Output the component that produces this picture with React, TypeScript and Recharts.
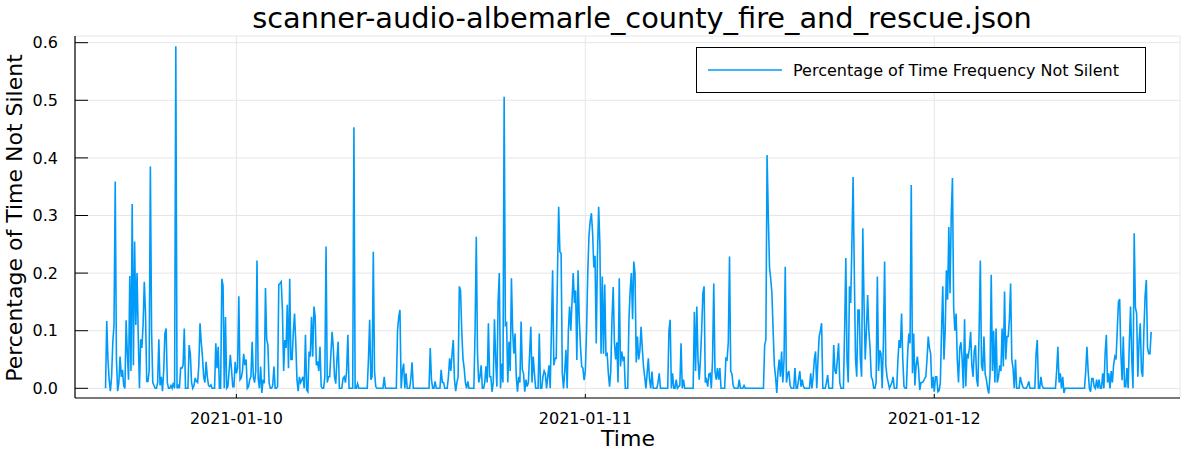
import { CartesianGrid, Legend, Line, LineChart, XAxis, YAxis } from 'recharts'

const title = 'scanner-audio-albemarle_county_fire_and_rescue.json'
const seriesName = 'Percentage of Time Frequency Not Silent'
const yLabel = 'Percentage of Time Not Silent'
const xLabel = 'Time'

// one sample every 5 minutes; hour 0 = 2021-01-10 00:00
const startHour = -9
const stepHours = 1 / 12

const blockStarts = [0, 75, 154, 234, 313, 392, 471, 551, 630, 709, 788]

const block01 = [
  0, .117, .05, .015, -.005, .02, .08, .11, .359, .05,
  -.005, .01, .055, .02, .032, .005, 0, .118, .06, .015,
  .195, .03, .32, .04, .255, .11, .2, .09, 0, .085,
  .07, .11, .185, .13, .012, .012, .03, .385, .1, .01,
  .005, 0, 0, .01, .085, .005, .02, -.005, .03, .095,
  .104, .01, 0, 0, .005, 0, .01, 0, .594, 0,
  .005, 0, .035, .035, .04, .104, 0, 0, 0, .075,
  .06, .01, 0, .005, .018,
]
const block02 = [
  .012, .01, .04, .113, .08, .055, .02, .01, .046, .02,
  .005, .003, .006, 0, 0, 0, .078, .035, .072, 0,
  0, .19, .178, 0, .124, 0, .003, .03, .058, .032,
  .003, .003, .046, .026, .035, .16, .015, .018, .03, .06,
  .04, .05, 0, .003, .015, .02, .081, .02, .01, .03,
  .222, .017, 0, .038, -.008, .015, .009, .174, .085, .075,
  .01, 0, 0, .005, .038, 0, 0, .003, .18, .182,
  .185, .136, .03, .084, .07, .145, .035, .19, .05,
]
const block03 = [
  .05, .098, .13, .08, .015, -.005, .02, .01, .015, .02,
  0, .093, -.003, -.006, .064, .055, .124, .055, .142, .125,
  .04, .047, .03, .072, .003, 0, 0, .02, .246, .01,
  .02, .02, .06, .098, .07, .02, .008, .05, .081, 0,
  0, 0, .017, .02, .01, .03, .093, 0, 0, 0,
  0, .453, 0, 0, .008, 0, 0, 0, 0, 0,
  0, 0, 0, .05, .119, .015, .02, .237, .03, .003,
  0, 0, 0, 0, 0, 0, .02, 0, 0, 0,
]
const block04 = [
  0, 0, 0, 0, 0, 0, 0, .1, .124, .136,
  0, .03, .043, 0, .026, 0, 0, 0, .017, .045,
  0, 0, 0, 0, 0, 0, 0, 0, 0, 0,
  0, 0, 0, 0, .07, .015, 0, 0, .012, 0,
  0, 0, 0, .032, .01, .01, 0, 0, 0, .02,
  .052, .03, .06, .084, .015, -.005, .01, .02, .177, .17,
  .1, .052, .035, .01, 0, .012, 0, 0, 0, 0,
  0, .1, .263, .06, .01, .02, .04, 0, 0,
]
const block05 = [
  .01, .038, .01, .113, .02, .02, -.006, .01, .12, .05,
  .003, .15, .2, 0, .043, .01, .506, .11, .113, .01,
  .081, .03, .191, .1, .06, .095, .02, -.006, .02, .01,
  .116, .032, .026, -.006, .015, .003, .01, .06, .107, .01,
  .055, .026, 0, 0, 0, .095, 0, 0, .02, .03,
  .025, 0, .02, .04, 0, .1, .205, .04, .052, .052,
  .2, .315, .237, .234, .026, 0, .03, .067, 0, .1,
  .142, .1, .15, .2, .148, .17, .049, .205, .12,
]
const block06 = [
  .072, .038, .035, .014, .03, .1, .2, .265, .29, .304,
  .27, .21, .23, .078, .23, .315, .25, .06, .194, .06,
  .18, .058, .06, .026, .003, .03, .12, .176, .08, .05,
  .08, .01, .191, .038, .064, .05, .055, 0, 0, 0,
  .12, .17, .2, .12, .22, .2, .045, .09, .05, .065,
  .107, .07, .038, .02, 0, .026, .052, .015, 0, .029,
  0, 0, 0, 0, .01, .026, 0, 0, 0, 0,
  0, 0, 0, .1, .119, 0, .026, 0, 0,
]
const block07 = [
  .015, 0, .003, .005, .078, 0, .015, 0, 0, 0,
  0, 0, 0, 0, 0, .133, .03, .142, .05, .015,
  .05, .1, .165, .177, .01, .015, .003, .025, .026, 0,
  .05, .182, .03, .015, .035, .015, .035, 0, 0, 0,
  0, .052, .05, .08, .229, .03, .025, .005, 0, 0,
  0, 0, .015, 0, 0, 0, .005, 0, 0, 0,
  0, 0, 0, 0, 0, 0, 0, 0, 0, 0,
  0, 0, 0, .075, .084, .405, .3, .21, .19, .165,
]
const block08 = [
  .1, .04, .02, -.008, .03, .05, .02, .064, .01, .05,
  .211, .01, .025, .03, .005, 0, 0, 0, .035, 0,
  0, .015, .03, .003, .015, .003, 0, 0, 0, 0,
  0, .026, 0, .02, .05, .064, 0, .05, .09, .1,
  .113, 0, 0, 0, .01, .023, 0, 0, 0, 0,
  .075, .03, .025, .05, .078, .01, 0, 0, 0, .1,
  .226, .05, .01, .177, .148, .25, .367, .2, .05, .02,
  .136, .136, .05, .02, .278, .15, .05, .1, .162,
]
const block09 = [
  .1, .07, .02, .015, 0, 0, .01, .194, .03, .066,
  .06, 0, .08, .22, .04, .02, .01, 0, .005, .01,
  .02, 0, 0, 0, .05, .084, .07, .13, .05, .003,
  0, 0, .06, .095, .078, .353, .026, .095, .005, .04,
  .055, .035, -.003, .01, .01, .012, .017, .02, .05, .09,
  .07, .06, 0, .02, -.006, .02, .02, -.006, -.004, .01,
  .1, .177, .05, .1, .205, .154, .28, .165, .3, .365,
  .14, .1, .13, .05, .01, .07, .08, .05, 0,
]
const block10 = [
  .12, .003, .06, .055, .07, .098, .04, .02, .065, .075,
  .015, .003, .1, .222, .04, .03, .09, .025, .015, 0,
  -.009, .023, .197, .03, .1, .01, .104, .01, .02, .04,
  .03, .104, .038, .168, .05, .09, .09, .12, .182, .05,
  .035, 0, .05, 0, 0, 0, .02, .01, .003, 0,
  0, 0, .005, .012, 0, 0, 0, 0, 0, .06,
  .084, 0, 0, .02, .005, 0, 0, 0, 0, 0,
  0, 0, 0, 0, 0, 0, .03, .072, .01,
]
const block11 = [
  .026, 0, .02, -.008, 0, 0, 0, 0, 0, 0,
  0, 0, 0, 0, 0, 0, 0, 0, 0, 0,
  0, .03, .072, .03, 0, -.006, .017, .017, .003, 0,
  .015, 0, .015, 0, 0, .026, 0, .06, .093, .01,
  .026, 0, .03, .01, .04, .055, .05, .1, .15, .155,
  .06, .014, .09, .003, .003, .035, 0, .08, .142, .05,
  0, .269, .14, .13, .02, .08, .113, .03, .02, .1,
  .16, .188, .07, .06, .06, .098,
]

const blocks = [block01, block02, block03, block04, block05, block06, block07, block08, block09, block10, block11]

const dayTicks = [0, 24, 48]
const dayLabels = ['2021-01-10', '2021-01-11', '2021-01-12']
const yTicks = [0, 0.1, 0.2, 0.3, 0.4, 0.5, 0.6]

const data = blocks.flatMap((block, b) =>
  block.map((v, j) => ({ t: startHour + (blockStarts[b] + j) * stepHours, v }))
)

const lineColor = '#009AF9'
const font = '"DejaVu Sans", sans-serif'

function LegendBox() {
  return (
    <div style={{ width: 450, height: 46, boxSizing: 'border-box', border: '1.5px solid #000', background: '#fff', display: 'flex', alignItems: 'center', fontFamily: font, fontSize: 16, color: '#000' }}>
      <svg width={96} height={10} style={{ flex: 'none' }}>
        <line x1={11} x2={85} y1={5} y2={5} stroke={lineColor} strokeWidth={1.6} />
      </svg>
      <span style={{ whiteSpace: 'nowrap' }}>{seriesName}</span>
    </div>
  )
}

export default function App() {
  return (
    <div style={{ position: 'fixed', left: 0, top: 0, width: 1200, height: 450, background: '#fff', overflow: 'hidden', fontFamily: font }}>
      <LineChart width={1200} height={450} data={data} margin={{ top: 36, right: 20, bottom: 0, left: 0 }}>
        <CartesianGrid stroke="#e6e6e6" strokeWidth={1} />
        <XAxis
          type="number"
          dataKey="t"
          domain={[-11.1, 64.9]}
          allowDataOverflow
          ticks={dayTicks}
          interval={0}
          tickFormatter={(h: number) => dayLabels[dayTicks.indexOf(h)]}
          height={52}
          tickSize={-4}
          tickMargin={18.5}
          axisLine={{ stroke: '#000', strokeWidth: 1.2 }}
          tickLine={{ stroke: '#000' }}
          tick={{ fill: '#000', fontSize: 16, fontFamily: font }}
        />
        <YAxis
          type="number"
          domain={[-0.0168, 0.6116]}
          allowDataOverflow
          ticks={yTicks}
          interval={0}
          tickFormatter={(v: number) => v.toFixed(1)}
          width={75}
          tickSize={-13}
          tickMargin={30}
          axisLine={{ stroke: '#000', strokeWidth: 1.2 }}
          tickLine={{ stroke: '#000' }}
          tick={{ fill: '#000', fontSize: 16, fontFamily: font }}
        />
        <Legend
          layout="vertical"
          align="center"
          verticalAlign="middle"
          content={() => <LegendBox />}
          wrapperStyle={{ left: 696, top: 47, width: 450, height: 46 }}
        />
        <Line type="linear" dataKey="v" name={seriesName} stroke={lineColor} strokeWidth={1.6} dot={false} activeDot={false} isAnimationActive={false} />
      </LineChart>
      <div style={{ position: 'absolute', left: 642, top: 18, transform: 'translate(-50%, -50%)', whiteSpace: 'nowrap', fontSize: 28.8, color: '#000' }}>{title}</div>
      <div style={{ position: 'absolute', left: 13.5, top: 217.5, transform: 'translate(-50%, -50%) rotate(-90deg)', whiteSpace: 'nowrap', fontSize: 22, color: '#000' }}>{yLabel}</div>
      <div style={{ position: 'absolute', left: 628, top: 439, transform: 'translate(-50%, -50%)', whiteSpace: 'nowrap', fontSize: 22, lineHeight: '22px', color: '#000' }}>{xLabel}</div>
    </div>
  )
}
